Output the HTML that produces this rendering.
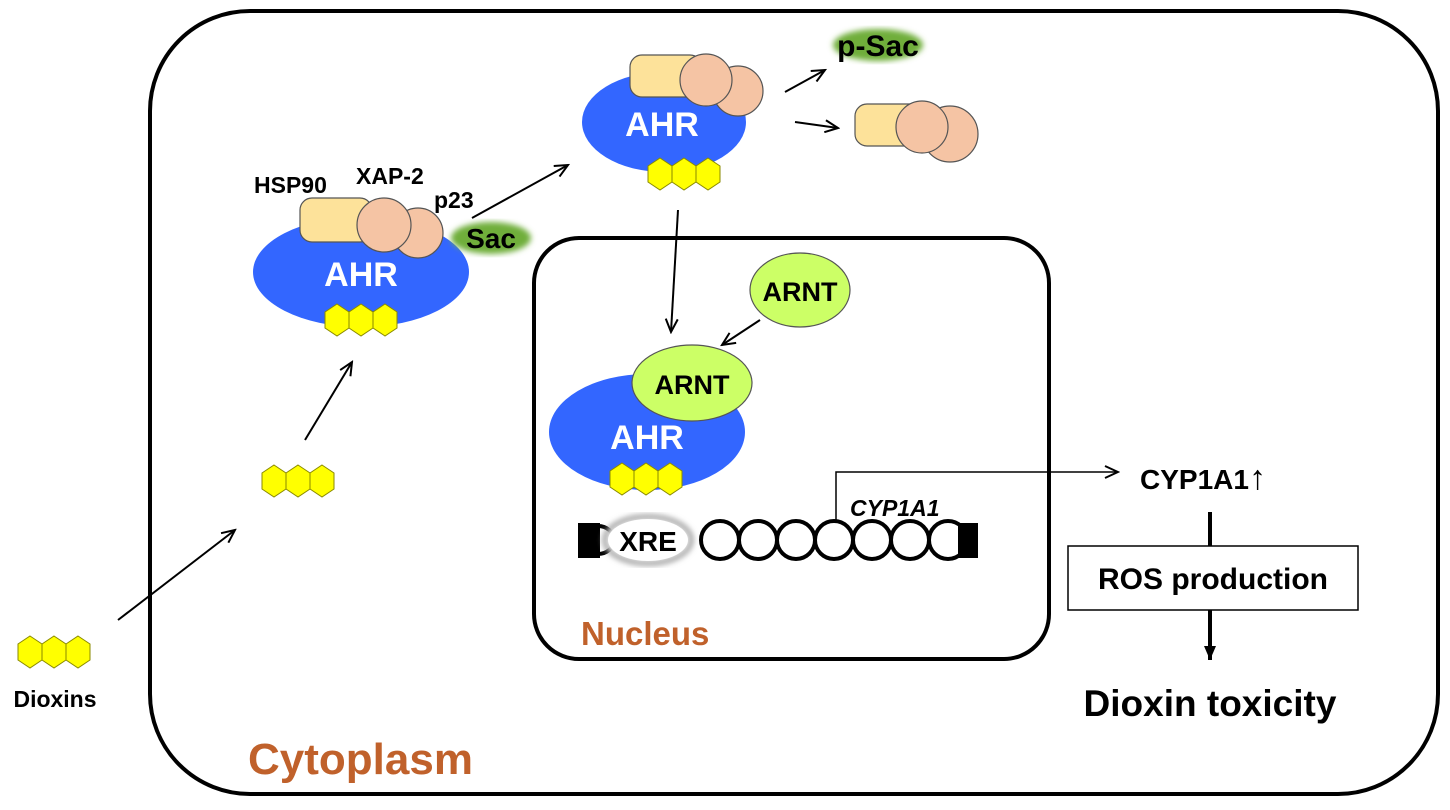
<!DOCTYPE html>
<html><head><meta charset="utf-8"><style>
html,body{margin:0;padding:0;background:#fff;width:1450px;height:810px;overflow:hidden}
text{font-family:"Liberation Sans",sans-serif;font-weight:bold}
</style></head><body>
<svg width="1450" height="810" viewBox="0 0 1450 810" xmlns="http://www.w3.org/2000/svg">
<defs>
<g id="hx"><g fill="#ffff00" stroke="#8a8a00" stroke-width="1">
<polygon points="12,0 24,8 24,24 12,32 0,24 0,8"/>
<polygon points="36,0 48,8 48,24 36,32 24,24 24,8"/>
<polygon points="60,0 72,8 72,24 60,32 48,24 48,8"/>
</g></g>
<marker id="ar" markerWidth="16" markerHeight="14" refX="14" refY="7" orient="auto" markerUnits="userSpaceOnUse"><path d="M1,1 L14,7 L1,13" fill="none" stroke="#000" stroke-width="2"/></marker>
<marker id="at" markerWidth="16" markerHeight="14" refX="14" refY="7" orient="auto" markerUnits="userSpaceOnUse"><path d="M0,1 L14,7 L0,13 Z" fill="#000"/></marker>
<filter id="bl"><feGaussianBlur stdDeviation="3"/></filter>
</defs>
<rect x="150" y="11" width="1288" height="783" rx="100" fill="none" stroke="#000" stroke-width="4"/>
<rect x="534" y="238" width="515" height="421" rx="45" fill="none" stroke="#000" stroke-width="4"/>

<use href="#hx" x="18" y="636"/>
<text x="55" y="707" font-size="23" text-anchor="middle">Dioxins</text>
<line x1="118" y1="620" x2="235" y2="530" stroke="#000" stroke-width="2" marker-end="url(#ar)"/>
<use href="#hx" x="262" y="465"/>
<line x1="305" y1="440" x2="352" y2="362" stroke="#000" stroke-width="2" marker-end="url(#ar)"/>

<ellipse cx="361" cy="272" rx="108" ry="55" fill="#3366ff"/>
<rect x="300" y="198" width="72" height="44" rx="12" fill="#fde29a" stroke="#555" stroke-width="1.2"/>
<circle cx="418" cy="233" r="25" fill="#f5c4a4" stroke="#555" stroke-width="1.2"/>
<circle cx="384" cy="225" r="27" fill="#f5c4a4" stroke="#555" stroke-width="1.2"/>
<text x="361" y="286" font-size="34" fill="#fff" text-anchor="middle">AHR</text>
<use href="#hx" x="325" y="304"/>
<text x="254" y="193" font-size="23">HSP90</text>
<text x="356" y="184" font-size="23">XAP-2</text>
<text x="434" y="208" font-size="23">p23</text>
<ellipse cx="491" cy="238" rx="40" ry="16" fill="#6fae3a" filter="url(#bl)"/>
<text x="491" y="248" font-size="28" text-anchor="middle">Sac</text>
<line x1="472" y1="218" x2="568" y2="165" stroke="#000" stroke-width="2" marker-end="url(#ar)"/>

<ellipse cx="664" cy="122" rx="82" ry="50" fill="#3366ff"/>
<rect x="630" y="55" width="72" height="42" rx="12" fill="#fde29a" stroke="#555" stroke-width="1.2"/>
<circle cx="738" cy="91" r="25" fill="#f5c4a4" stroke="#555" stroke-width="1.2"/>
<circle cx="706" cy="80" r="26" fill="#f5c4a4" stroke="#555" stroke-width="1.2"/>
<text x="662" y="136" font-size="34" fill="#fff" text-anchor="middle">AHR</text>
<use href="#hx" x="648" y="158"/>
<line x1="785" y1="92" x2="825" y2="70" stroke="#000" stroke-width="2" marker-end="url(#ar)"/>
<ellipse cx="878" cy="45" rx="45" ry="16" fill="#6fae3a" filter="url(#bl)"/>
<text x="878" y="56" font-size="30" text-anchor="middle">p-Sac</text>
<line x1="795" y1="122" x2="838" y2="128" stroke="#000" stroke-width="2" marker-end="url(#ar)"/>
<rect x="855" y="104" width="72" height="42" rx="12" fill="#fde29a" stroke="#555" stroke-width="1.2"/>
<circle cx="950" cy="134" r="28" fill="#f5c4a4" stroke="#555" stroke-width="1.2"/>
<circle cx="922" cy="127" r="26" fill="#f5c4a4" stroke="#555" stroke-width="1.2"/>
<line x1="678" y1="210" x2="671" y2="332" stroke="#000" stroke-width="2" marker-end="url(#ar)"/>

<ellipse cx="800" cy="290" rx="50" ry="37" fill="#ccff66" stroke="#555" stroke-width="1.2"/>
<text x="800" y="301" font-size="27" text-anchor="middle">ARNT</text>
<line x1="760" y1="320" x2="722" y2="345" stroke="#000" stroke-width="2" marker-end="url(#ar)"/>
<ellipse cx="647" cy="432" rx="98" ry="58" fill="#3366ff"/>
<ellipse cx="692" cy="383" rx="60" ry="38" fill="#ccff66" stroke="#555" stroke-width="1.2"/>
<text x="692" y="394" font-size="27" text-anchor="middle">ARNT</text>
<text x="647" y="449" font-size="34" fill="#fff" text-anchor="middle">AHR</text>
<use href="#hx" x="610" y="463"/>

<g fill="none" stroke="#000" stroke-width="4">
<circle cx="720" cy="540" r="19"/><circle cx="758" cy="540" r="19"/><circle cx="796" cy="540" r="19"/>
<circle cx="834" cy="540" r="19"/><circle cx="872" cy="540" r="19"/><circle cx="910" cy="540" r="19"/>
<circle cx="948" cy="540" r="19"/>
<path d="M598,526 A16,14 0 0 1 614,540 A16,14 0 0 1 598,554"/>
</g>
<rect x="578" y="523" width="22" height="35" fill="#000"/>
<rect x="958" y="523" width="20" height="35" fill="#000"/>
<ellipse cx="648" cy="540" rx="43" ry="23" fill="#fff" stroke="#999" stroke-width="5" filter="url(#bl)"/>
<ellipse cx="648" cy="540" rx="40" ry="21" fill="#fff"/>
<text x="648" y="551" font-size="28" text-anchor="middle">XRE</text>
<text x="850" y="516" font-size="23" font-style="italic">CYP1A1</text>
<polyline points="836,521 836,472 1118,472" fill="none" stroke="#000" stroke-width="1.5" marker-end="url(#ar)"/>
<text x="581" y="645" font-size="33" fill="#c0612b">Nucleus</text>
<text x="248" y="774" font-size="44" fill="#c0612b">Cytoplasm</text>

<text x="1140" y="489" font-size="28">CYP1A1<tspan font-size="34" font-weight="normal">↑</tspan></text>
<line x1="1210" y1="512" x2="1210" y2="546" stroke="#000" stroke-width="4"/>
<rect x="1068" y="546" width="290" height="64" fill="#fff" stroke="#000" stroke-width="1.5"/>
<text x="1213" y="589" font-size="30" text-anchor="middle">ROS production</text>
<line x1="1210" y1="610" x2="1210" y2="660" stroke="#000" stroke-width="4" marker-end="url(#at)"/>
<text x="1210" y="716" font-size="37" text-anchor="middle">Dioxin toxicity</text>
</svg>
</body></html>
